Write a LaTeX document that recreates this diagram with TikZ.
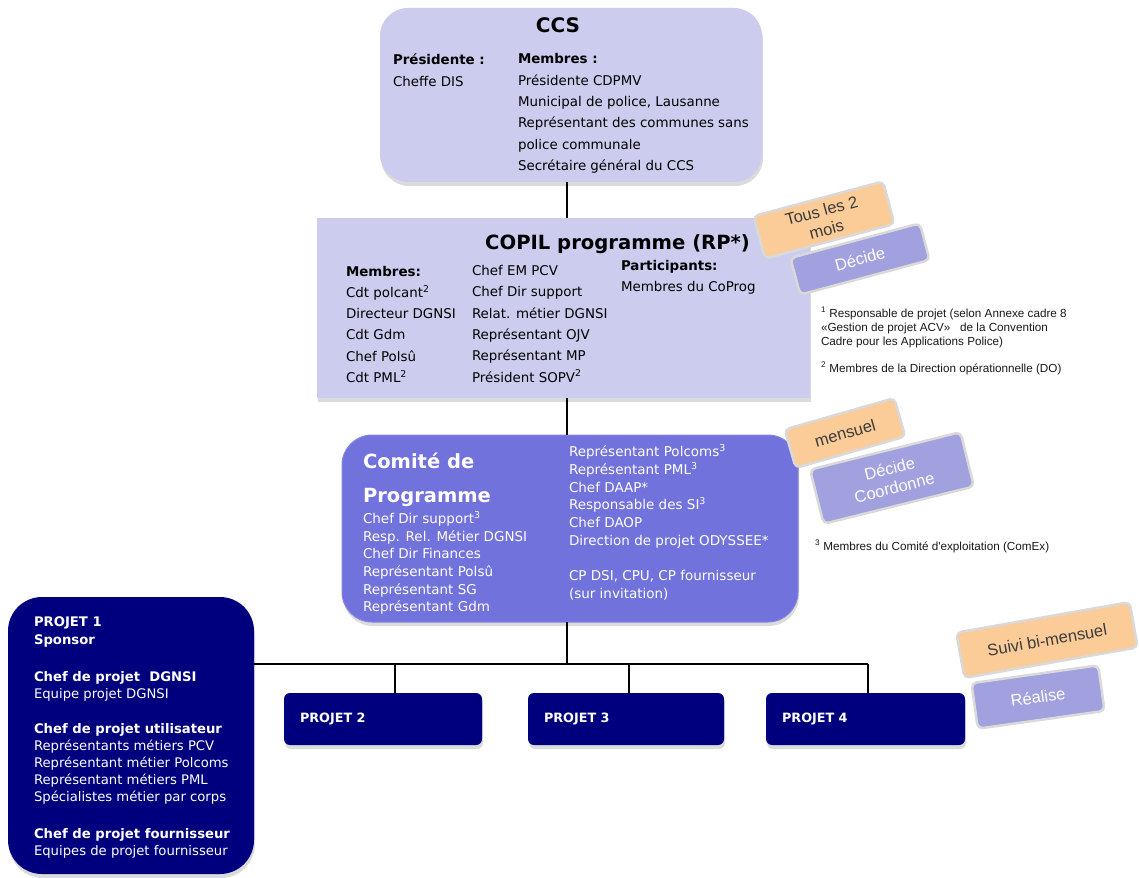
\documentclass[tikz,border=0pt]{standalone}
\usepackage{fontspec}
\setmainfont{DejaVu Sans}
\newfontfamily\arialf{Liberation Sans}
\usetikzlibrary{shadows,calc}
\definecolor{lav}{HTML}{CCCCEE}
\definecolor{midblue}{HTML}{7272DC}
\definecolor{midborder}{HTML}{8585E4}
\definecolor{navy}{HTML}{00007F}
\definecolor{peach}{HTML}{FBCB98}
\definecolor{lilac}{HTML}{A1A1DF}
\definecolor{tagline}{HTML}{D9D9D9}
\definecolor{tagtext}{HTML}{3C3C3C}
\newcommand\ts{\rule{0pt}{20pt}}
\begin{document}
\begin{tikzpicture}[x=1pt,y=-1pt,
  box/.style={inner sep=0pt, outer sep=0pt,
    drop shadow={opacity=0.28, shadow xshift=1pt, shadow yshift=-4pt}},
  txt/.style={inner sep=0pt, outer sep=0pt, anchor=north west, align=left},
  fccs/.style={font=\fontsize{13.4}{21.3}\selectfont, text=black},
  fcom/.style={font=\fontsize{13.5}{17.7}\selectfont, text=white},
  fpj/.style={font=\fontsize{13.2}{17}\selectfont, text=white},
  fnote/.style={font=\arialf\fontsize{11.7}{14.2}\selectfont, text=black!90},
  pbox/.style={box, fill=navy, rounded corners=6pt, minimum height=52pt,
    inner xsep=16pt, inner ysep=0pt, align=left, text=white,
    font=\bfseries\fontsize{12.8}{15}\selectfont},
  tag/.style={draw=tagline, line width=2.5pt, rounded corners=5pt, inner sep=0pt,
    align=center, font=\arialf\fontsize{16.5}{19.5}\selectfont},
  conn/.style={line width=1.3pt, black}
]
\useasboundingbox (0,0) rectangle (1139,877);
\fill[white] (0,0) rectangle (1139,877);

% main boxes
\node[box, fill=lav, rounded corners=28pt, minimum width=382pt, minimum height=174pt] (ccs) at (571,95) {};
\node[box, fill=lav, minimum width=493pt, minimum height=180pt] (copil) at (563.5,308) {};
\node[box, fill=midblue, draw=midborder, line width=1pt, rounded corners=30pt, minimum width=456pt, minimum height=187pt] (comite) at (570,528.5) {};
\node[box, fill=navy, rounded corners=34pt, minimum width=246pt, minimum height=277pt] (p1) at (131,735.5) {};
\node[pbox, text width=166pt] (p2) at (383,719) {PROJET 2};
\node[pbox, text width=164pt] (p3) at (626,719) {PROJET 3};
\node[pbox, text width=167pt] (p4) at (865.5,719) {PROJET 4};

% connectors
\coordinate (trunk) at (567,0);
\coordinate (busL) at (254,664);
\coordinate (busR) at (868,664);
\coordinate (v2) at (395,664);
\coordinate (v3) at (629,664);
\draw[conn] (ccs.south -| trunk) -- (copil.north -| trunk);
\draw[conn] (copil.south -| trunk) -- (comite.north -| trunk);
\draw[conn] (comite.south -| trunk) -- (trunk |- busL);
\draw[conn] (p1.east |- busL) -- (busR);
\draw[conn] (v2) -- (v2 |- p2.north);
\draw[conn] (v3) -- (v3 |- p3.north);
\draw[conn] (busR) -- (busR |- p4.north);

% CCS text
\node[inner sep=0pt, anchor=base, font=\bfseries\fontsize{20}{24}\selectfont] (ccsT) at (558,33) {CCS};
\node[txt, fccs] (ccsL) at (393,45) {\ts\textbf{Présidente :}\\Cheffe DIS};
\node[txt, fccs] (ccsR) at (518,44) {\ts\textbf{Membres :}\\Présidente CDPMV\\Municipal de police, Lausanne\\Représentant des communes sans\\police communale\\Secrétaire général du CCS};

% COPIL text
\node[inner sep=0pt, anchor=base west, font=\bfseries\fontsize{19.6}{24}\selectfont] (copilT) at (485,249) {COPIL programme (RP*)};
\node[txt, fccs] (copA) at (346,256) {\ts\textbf{Membres:}\\Cdt polcant\textsuperscript{2}\\Directeur DGNSI\\Cdt Gdm\\Chef Polsû\\Cdt PML\textsuperscript{2}};
\node[txt, fccs] (copB) at (472,255.5) {\ts Chef EM PCV\\Chef Dir support\\Relat. métier DGNSI\\Représentant OJV\\Représentant MP\\Président SOPV\textsuperscript{2}};
\node[txt, fccs] (copC) at (621,250) {\ts\textbf{Participants:}\\Membres du CoProg};

% Comite text
\node[txt, font=\bfseries\fontsize{19.5}{34}\selectfont, text=white] (comT) at (363,448) {\ts Comité de\\Programme};
\node[txt, fcom] (comA) at (363,503.3) {\ts Chef Dir support\textsuperscript{3}\\Resp. Rel. Métier DGNSI\\Chef Dir Finances\\Représentant Polsû\\Représentant SG\\Représentant Gdm};
\node[txt, fcom] (comB) at (569,436.7) {\ts Représentant Polcoms\textsuperscript{3}\\Représentant PML\textsuperscript{3}\\Chef DAAP*\\Responsable des SI\textsuperscript{3}\\Chef DAOP\\Direction de projet ODYSSEE*\\\mbox{}\\CP DSI, CPU, CP fournisseur\\(sur invitation)};

% Projet 1 text
\node[txt, fpj, font=\bfseries\fontsize{13.2}{18}\selectfont] (pjA) at (34,606) {\ts PROJET 1\\Sponsor};
\node[txt, fpj] (pjB) at (34,661) {\ts\textbf{Chef de projet\ \ DGNSI}\\Equipe projet DGNSI};
\node[txt, fpj] (pjC) at (34,713.3) {\ts\textbf{Chef de projet utilisateur}\\Représentants métiers PCV\\Représentant métier Polcoms\\Représentant métiers PML\\Spécialistes métier par corps};
\node[txt, fpj] (pjD) at (34,818.3) {\ts\textbf{Chef de projet fournisseur}\\Equipes de projet fournisseur};

% footnotes
\node[txt, fnote] (fn1) at (821,297) {\ts\textsuperscript{1} Responsable de projet (selon Annexe\ cadre 8\\«Gestion de projet ACV»\ \ \ de la Convention\\Cadre pour les Applications Police)};
\node[txt, fnote] (fn2) at (821,352) {\ts\textsuperscript{2} Membres de la Direction opérationnelle (DO)};
\node[txt, fnote] (fn3) at (815,530) {\ts\textsuperscript{3} Membres du Comité d'exploitation\ (ComEx)};

% tags
\node[tag, fill=peach, text=tagtext, minimum width=134pt, minimum height=44pt, rotate=15] (tous) at (824,220) {Tous les 2\\mois};
\node[tag, fill=lilac, text=white, minimum width=134pt, minimum height=38pt, rotate=15] (dec1) at (860,259) {Décide};
\node[tag, fill=peach, text=tagtext, minimum width=114pt, minimum height=40pt, rotate=16] (mens) at (845,433) {mensuel};
\node[tag, fill=lilac, text=white, minimum width=155pt, minimum height=56pt, rotate=14] (dec2) at (892,478) {Décide\\Coordonne};
\node[tag, fill=peach, text=tagtext, minimum width=176pt, minimum height=46pt, rotate=10] (suivi) at (1047,640) {Suivi bi-mensuel};
\node[tag, fill=lilac, text=white, minimum width=128pt, minimum height=46pt, rotate=8] (real) at (1038,697) {Réalise};
\end{tikzpicture}
\end{document}
